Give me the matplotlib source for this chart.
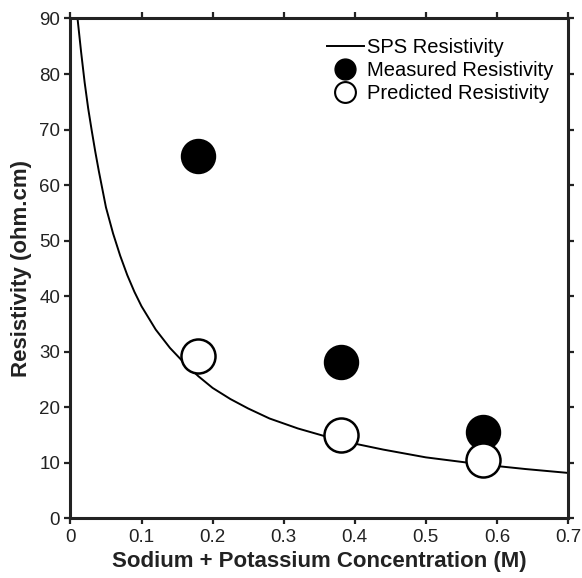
import matplotlib
matplotlib.use("Agg")
import matplotlib.pyplot as plt
from matplotlib.lines import Line2D

plt.rcParams["font.family"] = ["Liberation Sans", "DejaVu Sans"]

# SPS resistivity curve
sps_conc = [0.010, 0.015, 0.020, 0.025, 0.030, 0.035, 0.040, 0.050, 0.060,
            0.070, 0.080, 0.090, 0.100, 0.120, 0.140, 0.160, 0.180, 0.200,
            0.225, 0.250, 0.280, 0.320, 0.350, 0.380, 0.440, 0.500, 0.580,
            0.640, 0.700]
sps_res = [90.0, 84.0, 78.5, 73.8, 69.8, 66.0, 62.5, 56.0, 51.3,
           47.3, 43.8, 40.8, 38.2, 34.0, 30.7, 28.0, 25.6, 23.5,
           21.5, 19.8, 18.0, 16.2, 15.1, 14.0, 12.4, 11.0, 9.7,
           8.9, 8.2]

conc = [0.18, 0.38, 0.58]
measured = [65.2, 28.1, 15.5]
predicted = [29.2, 15.0, 10.6]

fig = plt.figure(figsize=(5.82, 5.78), dpi=100)
ax = fig.add_axes([0.121, 0.103, 0.855, 0.865])

ax.plot(sps_conc, sps_res, color="black", lw=1.4, solid_joinstyle="round")
ax.plot(conc, measured, "o", ms=24.5, mfc="black", mec="black")
ax.plot(conc, predicted, "o", ms=24.5, mfc="white", mec="black", mew=1.8)

ax.set_xlim(0, 0.7)
ax.set_ylim(0, 90)
ax.set_xticks([0, 0.1, 0.2, 0.3, 0.4, 0.5, 0.6, 0.7])
ax.set_xticklabels(["0", "0.1", "0.2", "0.3", "0.4", "0.5", "0.6", "0.7"])
ax.set_yticks(range(0, 91, 10))
ax.tick_params(direction="out", length=4, width=1.6, labelsize=13.5,
               top=True, right=True, colors="#222222", labelcolor="#222222")
for s in ax.spines.values():
    s.set_linewidth(2.2)
    s.set_color("#222222")

ax.set_xlabel("Sodium + Potassium Concentration (M)", fontsize=16,
              fontweight="bold", color="#222222", labelpad=4)
ax.set_ylabel("Resistivity (ohm.cm)", fontsize=16, fontweight="bold",
              color="#222222", labelpad=5)

handles = [
    Line2D([], [], color="black", lw=1.4),
    Line2D([], [], marker="o", ls="", ms=15, mfc="black", mec="black"),
    Line2D([], [], marker="o", ls="", ms=15, mfc="white", mec="black", mew=1.5),
]
ax.legend(handles, ["SPS Resistivity", "Measured Resistivity",
                    "Predicted Resistivity"],
          loc="upper right", bbox_to_anchor=(0.999, 0.99), frameon=False,
          fontsize=14.5, handlelength=1.85, handletextpad=0.15,
          labelspacing=0.2, borderaxespad=0.3)

fig.savefig("out.png", dpi=100)
